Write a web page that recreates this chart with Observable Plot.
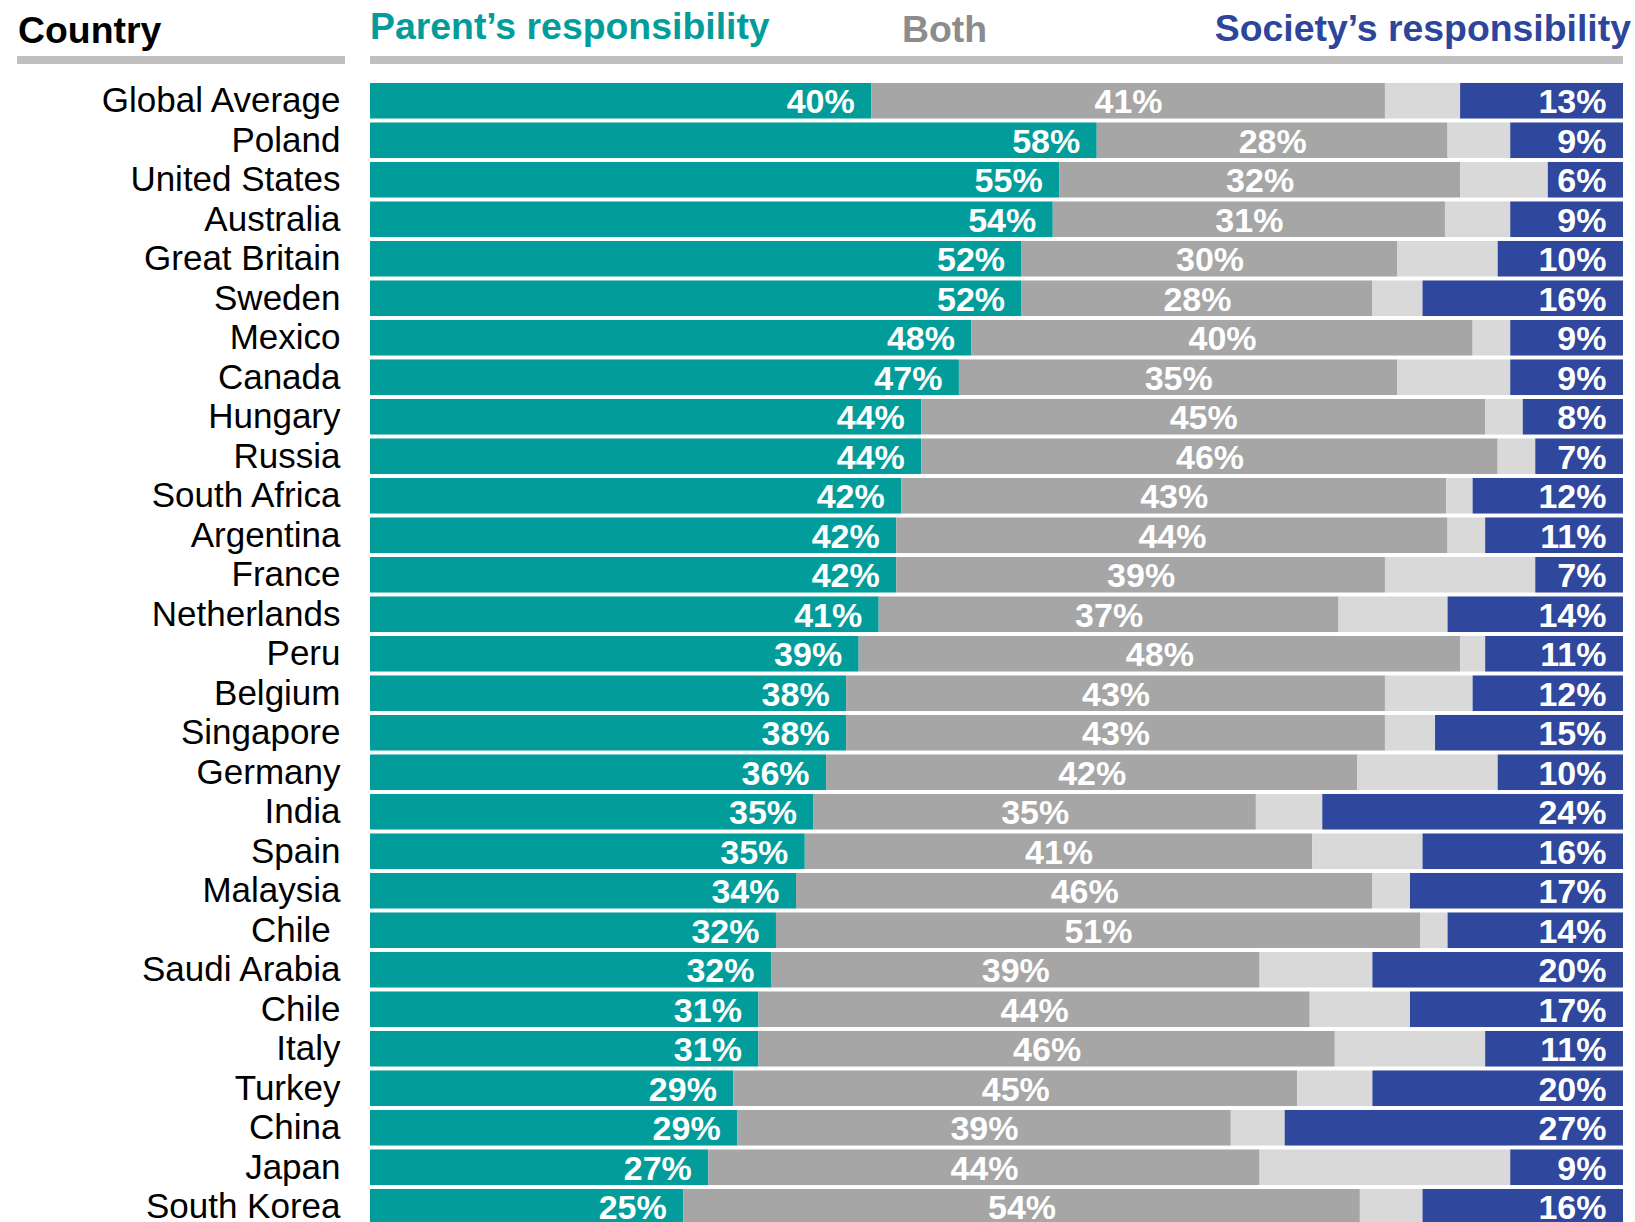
<!DOCTYPE html>
<html>
<head>
<meta charset="utf-8">
<script src="https://cdn.jsdelivr.net/npm/d3@7"></script>
<script src="https://cdn.jsdelivr.net/npm/@observablehq/plot@0.6"></script>
<style>
  html, body { margin: 0; padding: 0; background: #fff; overflow: hidden; }
  #wrap { position: relative; width: 1635px; height: 1222px; overflow: hidden; font-family: "Liberation Sans", Arial, sans-serif; }
  .hdr { position: absolute; font-size: 37.4px; line-height: 37px; font-weight: bold; white-space: nowrap; }
  .rule { position: absolute; height: 8px; background: #BFBFBF; top: 56px; }
  #chart { position: absolute; left: 0; top: 0; }
</style>
</head>
<body>
<div id="wrap">
  <div class="hdr" style="left:18px; top:12px; color:#000;">Country</div>
  <div class="hdr" style="left:370px; top:8px; color:#029D9A;">Parent’s responsibility</div>
  <div class="hdr" style="left:902px; top:11px; color:#8C8C8C;">Both</div>
  <div class="hdr" style="right:4px; top:10px; color:#2E459C;">Society’s responsibility</div>
  <div class="rule" style="left:17px; width:328px;"></div>
  <div class="rule" style="left:370px; width:1253px;"></div>
  <div id="chart"></div>
</div>
<script>
const countries = ["Global Average","Poland","United States","Australia","Great Britain","Sweden","Mexico","Canada","Hungary","Russia","South Africa","Argentina","France","Netherlands","Peru","Belgium","Singapore","Germany","India","Spain","Malaysia","Chile\u00a0","Saudi Arabia","Chile","Italy","Turkey","China","Japan","South Korea"];
const parent  = [40, 58, 55, 54.49, 52, 52, 48, 47, 44, 44, 42.4, 42, 42, 40.6, 39, 38, 38, 36.4, 35.4, 34.7, 34, 32.4, 32, 31, 31, 29, 29.3, 27, 25];
const both    = [41, 28, 32, 31.3, 30, 28, 40, 35, 45, 46, 43.49, 44, 39, 36.7, 48, 43, 43, 42.4, 35.3, 40.5, 46, 51.4, 39, 44, 46, 45, 39.4, 44, 54];
const society = [13, 9, 6, 9, 10, 16, 9, 9, 8, 7, 12, 11, 7, 14, 11, 12, 15, 10, 24, 16, 17, 14, 20, 17, 11, 20, 27, 9, 16];

const rows = countries.map((c, i) => ({country: c, parent: parent[i], both: both[i], society: society[i]}));
const segs = rows.flatMap(d => [
  {country: d.country, key: "Parent", x1: 0, x2: d.parent},
  {country: d.country, key: "Both", x1: d.parent, x2: d.parent + d.both},
  {country: d.country, key: "Other", x1: d.parent + d.both, x2: 100 - d.society},
  {country: d.country, key: "Society", x1: 100 - d.society, x2: 100}
]);
const pct = v => Math.round(v) + "%";
const lab = {fill: "white", fontWeight: "bold", fontSize: 34};

const chart = Plot.plot({
  width: 1635,
  height: 1230,
  marginLeft: 370,
  marginRight: 12,
  marginTop: 81,
  marginBottom: 3.5,
  style: {fontFamily: "'Liberation Sans', Arial, sans-serif", background: "transparent", overflow: "visible"},
  x: {domain: [0, 100], axis: null},
  y: {domain: countries, paddingInner: 0.1, paddingOuter: 0.05, round: false, label: null},
  color: {domain: ["Parent", "Both", "Other", "Society"], range: ["#029D9A", "#A6A6A6", "#D9D9D9", "#2F479C"]},
  marks: [
    Plot.barX(segs, {x1: "x1", x2: "x2", y: "country", fill: "key"}),
    Plot.text(rows, {x: "parent", y: "country", text: d => pct(d.parent), textAnchor: "end", dx: -17, dy: 1, ...lab}),
    Plot.text(rows, {x: d => d.parent + d.both / 2, y: "country", text: d => pct(d.both), dy: 1, ...lab}),
    Plot.text(rows, {x: d => 100, y: "country", text: d => pct(d.society), textAnchor: "end", dx: -17, dy: 1, ...lab}),
    Plot.axisY({tickSize: 0, tickPadding: 30, fontSize: 35, color: "#000", label: null})
  ]
});
document.getElementById("chart").appendChild(chart);
</script>
</body>
</html>
